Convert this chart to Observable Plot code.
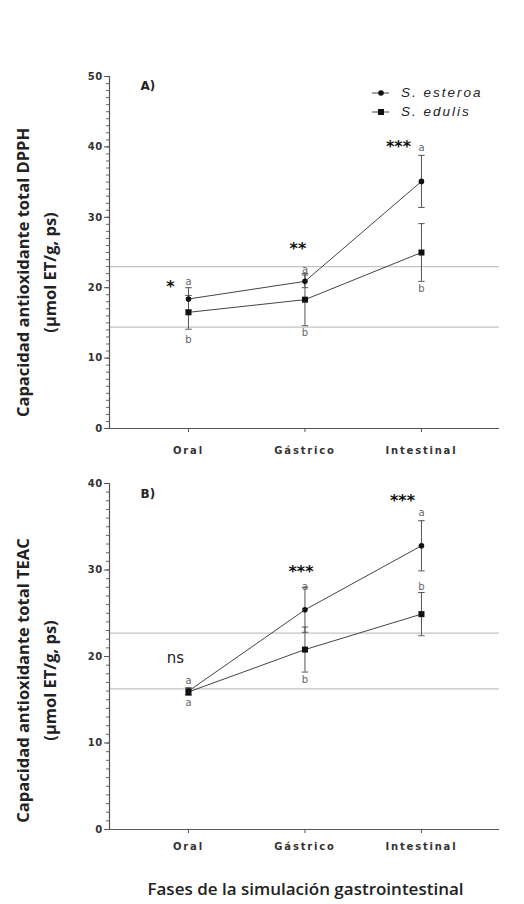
<!DOCTYPE html>
<html><head><meta charset="utf-8">
<script src="https://cdn.jsdelivr.net/npm/d3@7"></script>
<script src="https://cdn.jsdelivr.net/npm/@observablehq/plot@0.6"></script>
<style>
body{margin:0;background:#fff;}
#wrap{position:relative;width:524px;height:904px;overflow:hidden;background:#fff;}
#wrap svg{display:block;}
.legend{position:absolute;left:370px;top:84px;font-family:"Liberation Sans",Arial,sans-serif;font-style:italic;font-size:13.5px;letter-spacing:2px;color:#222;line-height:18.5px;}
.legend div{display:flex;align-items:center;}
.legend svg{margin-right:11px;}
</style></head><body><div id="wrap"></div>
<script>
const phases = ["Oral", "Gástrico", "Intestinal"];
const species = ["S. esteroa", "S. edulis"];

// Panel A – DPPH
const dpphEsteroa = [18.4, 20.9, 35.1];
const dpphEsteroaErr = [1.6, 0.9, 3.7];
const dpphEdulis = [16.5, 18.3, 25.0];
const dpphEdulisErr = [2.4, 3.7, 4.1];
const dpphRefLines = [23.0, 14.4];
const dpphSig = ["*", "**", "***"];
const dpphSigY = [20.7, 26.1, 40.6];
const dpphTopLetters = ["a", "a", "a"];
const dpphTopLetterY = [20.9, 22.6, 39.9];
const dpphBottomLetters = ["b", "b", "b"];
const dpphBottomLetterY = [12.6, 13.6, 19.9];

// Panel B – TEAC
const teacEsteroa = [16.0, 25.4, 32.8];
const teacEsteroaErr = [0.4, 2.6, 2.9];
const teacEdulis = [15.9, 20.8, 24.9];
const teacEdulisErr = [0.4, 2.6, 2.5];
const teacRefLines = [22.7, 16.25];
const teacSig = ["ns", "***", "***"];
const teacSigY = [19.8, 30.3, 38.4];
const teacTopLetters = ["a", "a", "a"];
const teacTopLetterY = [17.2, 28.1, 36.6];
const teacBottomLetters = ["a", "b", "b"];
const teacBottomLetterY = [14.6, 17.3, 28.1];

const capSymbol = {draw(ctx) { ctx.moveTo(-3.2, 0); ctx.lineTo(3.2, 0); }};
const xDomain = [-0.678, 2.67];

function panel(cfg) {
  const series = [
    {s: species[0], v: cfg.est, e: cfg.estErr},
    {s: species[1], v: cfg.edu, e: cfg.eduErr}
  ];
  const pts = series.flatMap(S => S.v.map((v, i) => ({s: S.s, i, v, lo: v - S.e[i], hi: v + S.e[i]})));
  const caps = pts.flatMap(d => [{i: d.i, y: d.lo}, {i: d.i, y: d.hi}]);
  const letters = [
    ...cfg.topL.map((t, i) => ({i, t, y: cfg.topY[i]})),
    ...cfg.botL.map((t, i) => ({i, t, y: cfg.botY[i]}))
  ];
  const sig = cfg.sig.map((t, i) => ({i, t, y: cfg.sigY[i]}));
  const yMax = cfg.yMax;
  const minor = d3.range(0, yMax + 1, 1);
  const major = d3.range(0, yMax + 1, 10);
  const marks = [
    Plot.ruleY(cfg.ref, {stroke: "#c4c4c4", strokeWidth: 1.2}),
    Plot.ruleX(pts, {x: "i", y1: "lo", y2: "hi", stroke: "#555", strokeWidth: 1}),
    Plot.dot(caps, {x: "i", y: "y", symbol: capSymbol, r: 3, stroke: "#555", fill: "none", strokeWidth: 1}),
    Plot.line(pts, {x: "i", y: "v", z: "s", stroke: "#444", strokeWidth: 1}),
    Plot.dot(pts.filter(d => d.s === species[0]), {x: "i", y: "v", r: 2.8, fill: "#111", stroke: "none"}),
    Plot.dot(pts.filter(d => d.s === species[1]), {x: "i", y: "v", symbol: "square", r: 3.4, fill: "#111", stroke: "none"}),
    Plot.text(letters, {x: "i", y: "y", text: "t", fill: "#666", fontSize: 10, fontFamily: "DejaVu Sans"}),
    ...sig.map(d => d.t === "ns"
      ? Plot.text([d], {x: "i", y: "y", text: "t", dx: cfg.sigDx[d.i], fill: "#222", fontSize: 15, fontFamily: "DejaVu Sans"})
      : Plot.text([d], {x: "i", y: "y", text: "t", dx: cfg.sigDx[d.i], dy: 4,
          fill: "#111", fontSize: 16, fontWeight: "bold", fontFamily: "DejaVu Sans"})),
    Plot.ruleX([xDomain[0]], {y1: 0, y2: yMax, stroke: "#555", strokeWidth: 1.2}),
    Plot.ruleY([0], {stroke: "#555", strokeWidth: 1.2}),
    Plot.axisY({ticks: minor, tickSize: 3, tickFormat: () => "", label: null, stroke: "#666"}),
    Plot.axisY({ticks: major, tickSize: 5, tickPadding: 2, label: null, stroke: "#555",
      fill: "#333", fontSize: 10, fontWeight: "bold", fontFamily: "DejaVu Sans"}),
    Plot.axisX({ticks: [0, 1, 2], tickFormat: i => phases[i], tickSize: 4, tickPadding: cfg.xPad, label: null, stroke: "#555",
      fill: "#333", fontSize: 10, fontWeight: "bold", fontFamily: "DejaVu Sans"}),
    Plot.text([cfg.label], {frameAnchor: "top-left", dx: 31, dy: cfg.labDy, textAnchor: "start",
      fontSize: 12, fontWeight: "bold", fill: "#222", fontFamily: "DejaVu Sans"}),
    Plot.text([cfg.yLab1], {frameAnchor: "left", rotate: -90, textAnchor: "middle", dx: -86, dy: cfg.yLabDy,
      fontSize: 16.5, fontWeight: "bold", fill: "#222", fontFamily: "Open Sans"}),
    Plot.text([cfg.yLab2], {frameAnchor: "left", rotate: -90, textAnchor: "middle", dx: -59, dy: cfg.yLabDy,
      fontSize: 16.5, fontWeight: "bold", fill: "#222", fontFamily: "Open Sans"})
  ];
  if (cfg.caption) marks.push(Plot.text([cfg.caption], {frameAnchor: "bottom", dx: 1, dy: cfg.capDy,
    fontSize: 17, fontWeight: 600, fill: "#222", fontFamily: "Open Sans"}));
  const svg = Plot.plot({
    width: 524, height: cfg.height,
    marginLeft: 109, marginRight: 25, marginTop: cfg.mt, marginBottom: cfg.mb,
    x: {type: "linear", domain: xDomain, label: null},
    y: {domain: [0, yMax], label: null},
    style: {background: "#fff", fontFamily: "DejaVu Sans", overflow: "visible"},
    marks
  });
  d3.select(svg).selectAll('g[aria-label="x-axis tick label"] text').attr("letter-spacing", "1.8");
  d3.select(svg).selectAll('g[aria-label="y-axis tick label"] text').attr("letter-spacing", "0.4");
  return svg;
}

const wrap = document.getElementById("wrap");
wrap.appendChild(panel({
  est: dpphEsteroa, estErr: dpphEsteroaErr, edu: dpphEdulis, eduErr: dpphEdulisErr,
  ref: dpphRefLines, sig: dpphSig, sigY: dpphSigY, sigDx: [-18, -7, -23],
  topL: dpphTopLetters, topY: dpphTopLetterY, botL: dpphBottomLetters, botY: dpphBottomLetterY,
  yMax: 50, height: 460, mt: 76, mb: 32, xPad: 14, label: "A)", labDy: 5,
  yLab1: "Capacidad antioxidante total DPPH", yLab2: "(µmol ET/g, ps)", yLabDy: 20
}));
wrap.appendChild(panel({
  est: teacEsteroa, estErr: teacEsteroaErr, edu: teacEdulis, eduErr: teacEdulisErr,
  ref: teacRefLines, sig: teacSig, sigY: teacSigY, sigDx: [-13, -4, -19],
  topL: teacTopLetters, topY: teacTopLetterY, botL: teacBottomLetters, botY: teacBottomLetterY,
  yMax: 40, height: 444, mt: 23, mb: 75, xPad: 9, label: "B)", labDy: 6,
  yLab1: "Capacidad antioxidante total TEAC", yLab2: "(µmol ET/g, ps)", yLabDy: 24,
  caption: "Fases de la simulación gastrointestinal", capDy: 65
}));

// legend
const leg = document.createElement("div");
leg.className = "legend";
const icon = (sq) => `<svg width="20" height="10"><line x1="2" x2="19" y1="5" y2="5" stroke="#444"/>${sq
  ? '<rect x="8" y="2" width="6" height="6" fill="#111"/>' : '<circle cx="11" cy="5" r="2.8" fill="#111"/>'}</svg>`;
leg.innerHTML = species.map((s, k) => `<div>${icon(k === 1)}<span>${s}</span></div>`).join("");
wrap.appendChild(leg);
</script></body></html>
